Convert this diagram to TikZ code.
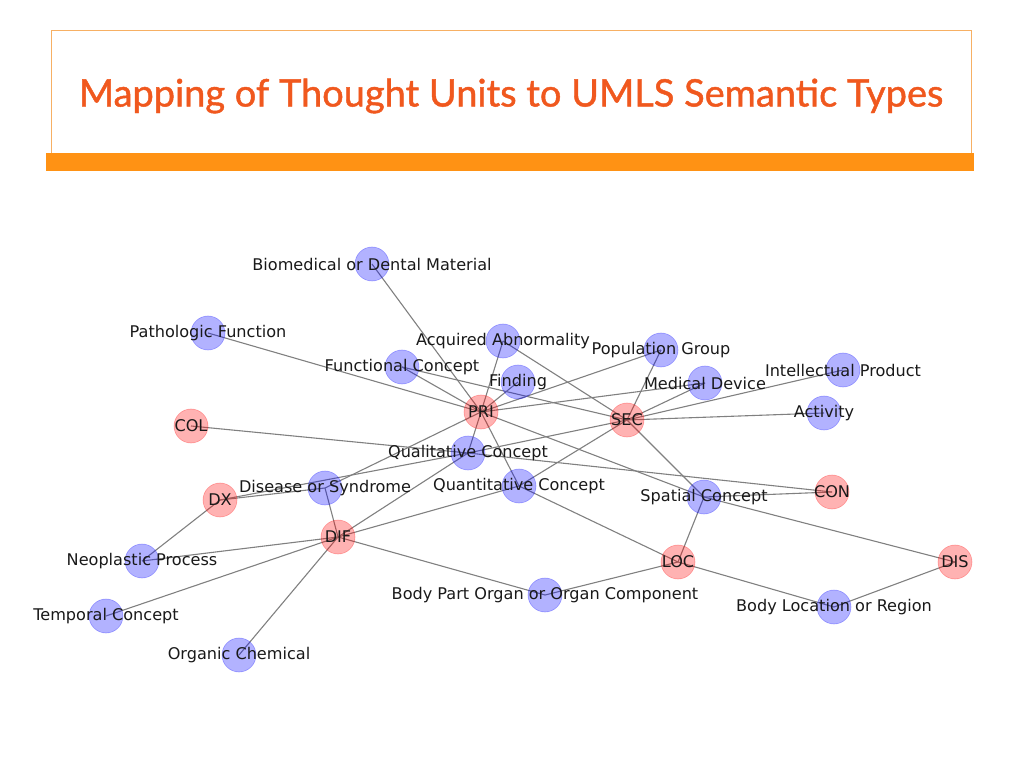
\documentclass[tikz,border=0pt]{standalone}
\usepackage{fontspec}
\newfontfamily\lblfont{DejaVu Sans}
\newfontfamily\titlefont[FakeBold=1.2]{Lato}
\pgfdeclarelayer{bg}
\pgfdeclarelayer{fg}
\pgfsetlayers{bg,main,fg}
\definecolor{titlecol}{RGB}{240,88,30}
\definecolor{barcol}{RGB}{255,146,20}
\definecolor{framecol}{RGB}{247,176,100}
\tikzset{
  bnode/.style={circle,minimum size=34pt,inner sep=0pt,fill=blue,fill opacity=0.3,draw=blue,draw opacity=0.3,line width=0.6pt},
  rnode/.style={circle,minimum size=34pt,inner sep=0pt,fill=red,fill opacity=0.3,draw=red,draw opacity=0.3,line width=0.6pt},
  lbl/.style={font=\lblfont\fontsize{16.1}{17}\selectfont,text=black!90,inner sep=0pt},
  link/.style={draw=black!50,line width=1.1pt},
}
\begin{document}
\begin{tikzpicture}[x=1pt,y=-1pt]
\useasboundingbox (0,0) rectangle (1023,767);
% title area
\draw[framecol,line width=0.8pt] (51,30) rectangle (971,154);
\fill[barcol] (46,153) rectangle (974,171);
\node (title) at (511,96) {\resizebox{864pt}{!}{\titlefont\color{titlecol}Mapping of Thought Units to UMLS Semantic Types}};
% nodes
\node[bnode] (bio) at (372,264) {};
\node[bnode] (path) at (208,333) {};
\node[bnode] (acq) at (503,341) {};
\node[bnode] (func) at (402,367) {};
\node[bnode] (find) at (518,382) {};
\node[bnode] (pop) at (661,350) {};
\node[bnode] (med) at (705,383) {};
\node[bnode] (intel) at (843,370) {};
\node[bnode] (act) at (824,413) {};
\node[rnode] (pri) at (481,412) {};
\node[rnode] (sec) at (627,420) {};
\node[rnode] (col) at (191,426) {};
\node[bnode] (qual) at (468,453) {};
\node[bnode] (quant) at (519,486) {};
\node[bnode] (dis) at (325,488) {};
\node[rnode] (dx) at (220,500) {};
\node[bnode] (spat) at (704,497) {};
\node[rnode] (con) at (832,492) {};
\node[rnode] (dif) at (338,537) {};
\node[bnode] (neo) at (142,561) {};
\node[rnode] (loc) at (678,562) {};
\node[rnode] (dist) at (955,562) {};
\node[bnode] (body) at (545,595) {};
\node[bnode] (bloc) at (834,607) {};
\node[bnode] (temp) at (106,616) {};
\node[bnode] (org) at (239,655) {};
% edges
\begin{pgfonlayer}{bg}
\foreach \a/\b in {bio/pri,path/pri,func/pri,acq/pri,find/pri,pop/pri,med/pri,qual/pri,quant/pri,spat/pri,dis/pri,
  acq/sec,func/sec,pop/sec,med/sec,intel/sec,act/sec,spat/sec,qual/sec,quant/sec,
  col/qual,qual/con,spat/con,qual/dx,dis/dx,neo/dx,
  dis/dif,qual/dif,quant/dif,neo/dif,temp/dif,org/dif,body/dif,
  quant/loc,spat/loc,body/loc,bloc/loc,spat/dist,bloc/dist}
  \draw[link] (\a.center) -- (\b.center);
\end{pgfonlayer}
% labels
\begin{pgfonlayer}{fg}
\node[lbl] (bio-t) at (bio) {Biomedical or Dental Material};
\node[lbl] (path-t) at (path) {Pathologic Function};
\node[lbl] (acq-t) at (acq) {Acquired Abnormality};
\node[lbl] (func-t) at (func) {Functional Concept};
\node[lbl] (find-t) at (find) {Finding};
\node[lbl] (pop-t) at (pop) {Population Group};
\node[lbl] (med-t) at (med) {Medical Device};
\node[lbl] (intel-t) at (intel) {Intellectual Product};
\node[lbl] (act-t) at (act) {Activity};
\node[lbl] (pri-t) at (pri) {PRI};
\node[lbl] (sec-t) at (sec) {SEC};
\node[lbl] (col-t) at (col) {COL};
\node[lbl] (qual-t) at (qual) {Qualitative Concept};
\node[lbl] (quant-t) at (quant) {Quantitative Concept};
\node[lbl] (dis-t) at (dis) {Disease or Syndrome};
\node[lbl] (dx-t) at (dx) {DX};
\node[lbl] (spat-t) at (spat) {Spatial Concept};
\node[lbl] (con-t) at (con) {CON};
\node[lbl] (dif-t) at (dif) {DIF};
\node[lbl] (neo-t) at (neo) {Neoplastic Process};
\node[lbl] (loc-t) at (loc) {LOC};
\node[lbl] (dist-t) at (dist) {DIS};
\node[lbl] (body-t) at (body) {Body Part Organ or Organ Component};
\node[lbl] (bloc-t) at (bloc) {Body Location or Region};
\node[lbl] (temp-t) at (temp) {Temporal Concept};
\node[lbl] (org-t) at (org) {Organic Chemical};
\end{pgfonlayer}
\end{tikzpicture}
\end{document}
